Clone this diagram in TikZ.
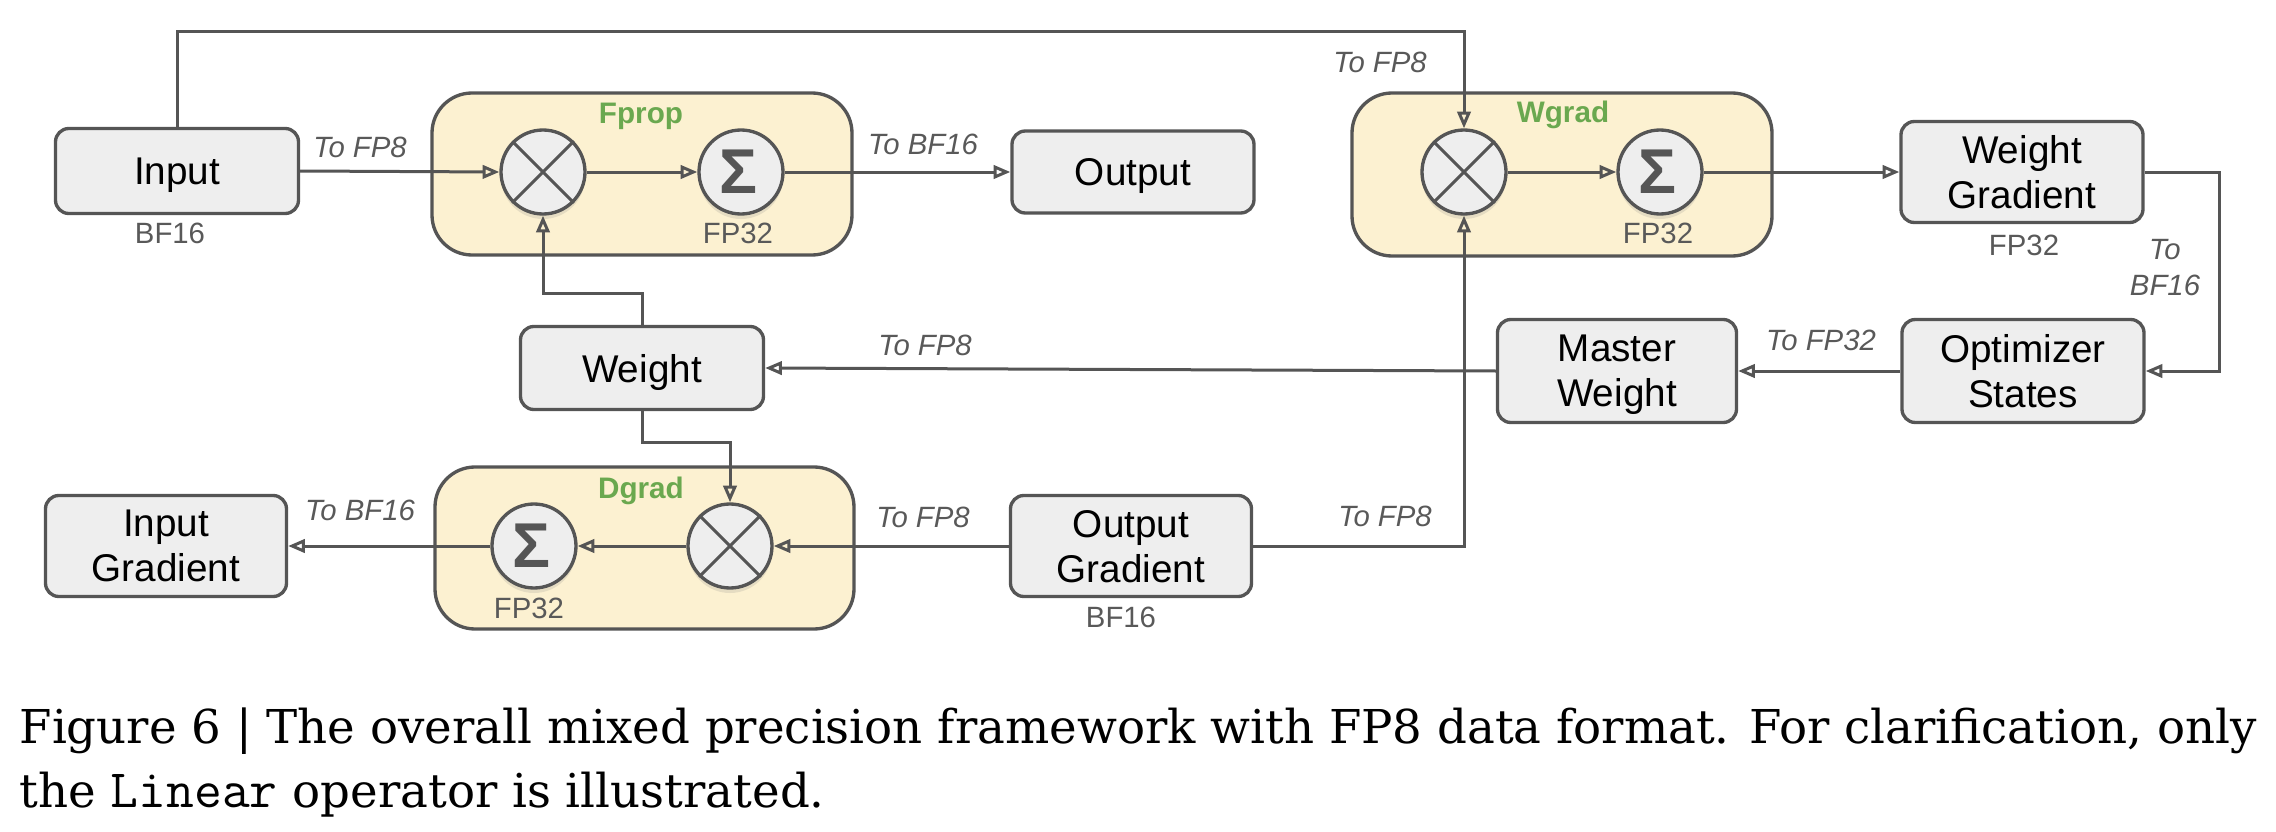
\documentclass[tikz,border=0pt]{standalone}
\usepackage{fontspec}
\setmainfont{Liberation Sans}
\newfontfamily\capfont{DejaVu Serif}
\newfontfamily\captt{Latin Modern Mono}
\usetikzlibrary{arrows.meta,shadows}
\definecolor{ln}{HTML}{555555}
\definecolor{boxfill}{HTML}{EEEEEE}
\definecolor{contfill}{HTML}{FCF1D1}
\definecolor{grn}{HTML}{6AA84F}
\definecolor{lbl}{HTML}{595959}
\tikzset{
 box/.style={draw=ln, line width=1pt, fill=boxfill, rounded corners=4pt, align=center,
   font=\fontsize{11.6}{13.5}\selectfont, inner sep=0pt, text depth=0pt},
 cont/.style={draw=ln, line width=1pt, fill=contfill, rounded corners=12pt, inner sep=0pt},
 op/.style={circle, draw=ln, line width=1pt, fill=boxfill, minimum size=25.2pt, inner sep=0pt,
   drop shadow={opacity=0.18, shadow xshift=0pt, shadow yshift=-1.5pt}},
 conn/.style={draw=ln, line width=0.9pt, -{Triangle[open, length=5pt, width=4pt]}},
 tolbl/.style={text=lbl, font=\fontsize{8.8}{10.8}\selectfont\itshape, inner sep=0pt, align=center},
 prec/.style={text=lbl, font=\fontsize{8.8}{10}\selectfont, inner sep=0pt},
 optitle/.style={text=grn, font=\fontsize{8.9}{10}\selectfont\bfseries, inner sep=0pt},
 sig/.style={text=ln, font=\fontsize{19}{19}\selectfont\bfseries, inner sep=0pt},
 capt/.style={anchor=base west, inner sep=0pt, font=\capfont\fontsize{14}{16}\selectfont},
}
\begin{document}
\begin{tikzpicture}[x=0.3pt, y=-0.3pt]
\useasboundingbox (0,0) rectangle (2276,832);
% containers
\node[cont, minimum width=126pt, minimum height=48.6pt] (fprop) at (642,174) {};
\node[cont, minimum width=126pt, minimum height=48.9pt] (wgrad) at (1562,174.5) {};
\node[cont, minimum width=125.7pt, minimum height=48.6pt] (dgrad) at (644.5,548) {};
\node[optitle] (tf) at (641,116) {Fprop};
\node[optitle] (tw) at (1563,115) {Wgrad};
\node[optitle] (td) at (641,491) {Dgrad};
% boxes
\node[box, minimum width=72.9pt, minimum height=25.5pt] (input) at (177,171) {Input};
\node[box, minimum width=72.6pt, minimum height=24.6pt] (output) at (1133,172) {Output};
\node[box, minimum width=72.9pt, minimum height=24.9pt] (weight) at (642,368) {Weight};
\node[box, minimum width=72.3pt, minimum height=30.3pt] (inputgrad) at (166,546) {Input\\Gradient};
\node[box, minimum width=72.3pt, minimum height=30.3pt] (outgrad) at (1131,546) {Output\\Gradient};
\node[box, minimum width=72.6pt, minimum height=30.3pt] (wgb) at (2022,172) {Weight\\Gradient};
\node[box, minimum width=71.7pt, minimum height=30.9pt] (master) at (1617,371) {Master\\Weight};
\node[box, minimum width=72.6pt, minimum height=30.9pt] (optim) at (2023,371) {Optimizer\\States};
% operators
\node[op] (fmul) at (543,172) {};
\node[op] (fsum) at (741,172) {};
\node[op] (wmul) at (1464,172) {};
\node[op] (wsum) at (1660,172) {};
\node[op] (dsum) at (534,546) {};
\node[op] (dmul) at (730,546) {};
\foreach \m in {fmul,wmul,dmul}{
  \draw[ln, line width=0.9pt] (\m.45) -- (\m.225) (\m.135) -- (\m.315);
}
\node[sig] (sf) at ([xshift=-0.9pt]fsum.center) {Σ};
\node[sig] (sw) at ([xshift=-0.9pt]wsum.center) {Σ};
\node[sig] (sd) at ([xshift=-0.9pt]dsum.center) {Σ};
% precision labels
\node[prec] (p1) at (170,233) {BF16};
\node[prec] (p2) at (738,233) {FP32};
\node[prec] (p3) at (1658,233) {FP32};
\node[prec] (p4) at (2024,245) {FP32};
\node[prec] (p5) at (529,608) {FP32};
\node[prec] (p6) at (1121,617) {BF16};
% helper coordinates
\coordinate (top) at (0,31);
\coordinate (wa) at (0,293);
\coordinate (wb) at (0,442);
\coordinate (rx) at (2219,0);
% connectors
\draw[conn] (input.north) -- (input.north |- top) -- (wmul.north |- top) -- (wmul.north);
\draw[conn] (input.east) -- (fmul.west);
\draw[conn] (fmul.east) -- (fsum.west);
\draw[conn] (fsum.east) -- (output.west);
\draw[conn] (weight.north) -- (weight.north |- wa) -- (fmul.south |- wa) -- (fmul.south);
\draw[conn] (weight.south) -- (weight.south |- wb) -- (dmul.north |- wb) -- (dmul.north);
\draw[conn] (outgrad.west) -- (dmul.east);
\draw[conn] (dmul.west) -- (dsum.east);
\draw[conn] (dsum.west) -- (inputgrad.east);
\draw[conn] (outgrad.east) -- (outgrad.east -| wmul.south) -- (wmul.south);
\draw[conn] (wmul.east) -- (wsum.west);
\draw[conn] (wsum.east) -- (wgb.west);
\draw[conn] (wgb.east) -- (wgb.east -| rx) -- (optim.east -| rx) -- (optim.east);
\draw[conn] (optim.west) -- (master.east);
\draw[conn] (master.west) -- (weight.east);
% conversion labels
\node[tolbl] (l1) at (360,147) {To FP8};
\node[tolbl] (l2) at (923,144) {To BF16};
\node[tolbl] (l3) at (1380,62) {To FP8};
\node[tolbl] (l4) at (2165,268) {To\\BF16};
\node[tolbl] (l5) at (925,345) {To FP8};
\node[tolbl] (l6) at (1821,340) {To FP32};
\node[tolbl] (l7) at (360,510) {To BF16};
\node[tolbl] (l8) at (923,517) {To FP8};
\node[tolbl] (l9) at (1385,516) {To FP8};
% caption
\node[capt] (c1) at (19,743) {Figure 6 | The overall mixed precision framework with FP8 data format. For clarification, only};
\node[capt] (c2) at (19,807) {the {\captt\fontsize{16.2}{16}\selectfont Linear} operator is illustrated.};
\end{tikzpicture}
\end{document}
